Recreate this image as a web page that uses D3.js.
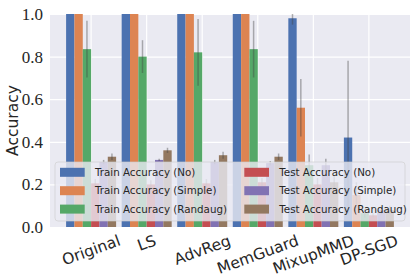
<!DOCTYPE html>
<html>
<head>
<meta charset="utf-8">
<script src="https://cdn.jsdelivr.net/npm/d3@7"></script>
<style>
  body { margin: 0; background: #fff; }
  svg { display: block; }
</style>
</head>
<body>
<svg id="chart" width="415" height="277"></svg>
<script>
const categories = ['Original', 'LS', 'AdvReg', 'MemGuard', 'MixupMMD', 'DP-SGD'];
const seriesNames = ['Train Accuracy (No)', 'Train Accuracy (Simple)', 'Train Accuracy (Randaug)',
                     'Test Accuracy (No)', 'Test Accuracy (Simple)', 'Test Accuracy (Randaug)'];
const colors = ['#4C72B0', '#DD8452', '#55A868', '#C44E52', '#8172B3', '#937860'];

const trainNo      = [1.0,   1.0,   1.0,   1.0,   0.98,  0.42];
const trainSimple  = [1.0,   1.0,   1.0,   1.0,   0.56,  0.15];
const trainRandaug = [0.835, 0.80,  0.82,  0.835, 0.29,  0.065];
const testNo       = [0.205, 0.20,  0.205, 0.21,  0.20,  0.055];
const testSimple   = [0.305, 0.315, 0.305, 0.30,  0.29,  0.08];
const testRandaug  = [0.33,  0.36,  0.337, 0.33,  0.21,  0.08];

const trainNoErr      = [0,     0,     0,     0,     0.03,  0.36];
const trainSimpleErr  = [0,     0,     0,     0,     0.135, 0.06];
const trainRandaugErr = [0.133, 0.077, 0.157, 0.133, 0.05,  0.02];
const testNoErr       = [0.02,  0.02,  0.02,  0.02,  0.03,  0.01];
const testSimpleErr   = [0.01,  0.005, 0.01,  0.01,  0.03,  0.02];
const testRandaugErr  = [0.015, 0.012, 0.016, 0.015, 0.03,  0.02];

const yTicks = [0, 0.2, 0.4, 0.6, 0.8, 1.0];

const values = [trainNo, trainSimple, trainRandaug, testNo, testSimple, testRandaug];
const errors = [trainNoErr, trainSimpleErr, trainRandaugErr, testNoErr, testSimpleErr, testRandaugErr];

const data = [];
categories.forEach((c, i) => {
  seriesNames.forEach((s, j) => {
    data.push({cat: c, series: s, value: values[j][i], err: errors[j][i], color: colors[j]});
  });
});

const svg = d3.select('#chart');
const margin = ({top: 14, right: 5, bottom: 50, left: 50});
const width = +svg.attr('width');
const innerWidth = width - margin.left - margin.right;
const innerHeight = 227 - margin.top;

const x = d3.scaleBand()
  .domain(categories)
  .range([0, innerWidth])
  .paddingInner(0)
  .paddingOuter(0.24);

const groupW = x.step() * 0.9;
const xSub = d3.scaleBand()
  .domain(seriesNames)
  .range([0, groupW]);

const y = d3.scaleLinear()
  .domain([0, 1])
  .range([innerHeight, 0]);

const g = svg.append('g')
  .attr('transform', `translate(${margin.left},${margin.top})`);

g.append('rect')
  .attr('width', innerWidth)
  .attr('height', innerHeight)
  .attr('fill', '#EAEAF2');

svg.append('defs').append('clipPath').attr('id', 'clip')
  .append('rect').attr('width', innerWidth).attr('height', innerHeight);

// grid (white lines only, no tick text)
const yGrid = g.append('g')
  .call(d3.axisLeft(y).tickValues(yTicks).tickSize(-innerWidth));
yGrid.select('.domain').remove();
yGrid.selectAll('.tick text').remove();
yGrid.selectAll('.tick line').attr('stroke', '#fff').attr('stroke-width', 1.2);

const xGrid = g.append('g')
  .attr('transform', `translate(0,${innerHeight})`)
  .call(d3.axisBottom(x).tickSize(-innerHeight));
xGrid.select('.domain').remove();
xGrid.selectAll('.tick text').remove();
xGrid.selectAll('.tick line').attr('stroke', '#fff').attr('stroke-width', 1.2);

const plot = g.append('g').attr('clip-path', 'url(#clip)');
const barX = d => x(d.cat) + (x.step() - groupW) / 2 + xSub(d.series);

plot.selectAll('rect.bar').data(data)
  .enter().append('rect')
    .attr('class', 'bar')
    .attr('x', barX)
    .attr('y', d => y(d.value))
    .attr('width', xSub.bandwidth())
    .attr('height', d => innerHeight - y(d.value))
    .attr('fill', d => d.color);

plot.selectAll('line.err').data(data.filter(d => d.err > 0))
  .enter().append('line')
    .attr('class', 'err')
    .attr('x1', d => barX(d) + xSub.bandwidth() / 2)
    .attr('x2', d => barX(d) + xSub.bandwidth() / 2)
    .attr('y1', d => y(d.value - d.err))
    .attr('y2', d => y(d.value + d.err))
    .attr('stroke', '#424242')
    .attr('stroke-opacity', 0.4)
    .attr('stroke-width', 1.5);

// y axis
const yAxisG = g.append('g')
  .call(d3.axisLeft(y).tickValues(yTicks).tickSize(0).tickPadding(7).tickFormat(d3.format('.1f')));
yAxisG.select('.domain').remove();
yAxisG.selectAll('text')
  .attr('font-family', '"Liberation Serif", serif')
  .attr('font-size', 17)
  .attr('fill', '#262626');

svg.append('text')
  .attr('transform', `translate(13,${margin.top + innerHeight / 2}) rotate(-90)`)
  .attr('text-anchor', 'middle')
  .attr('dy', '0.35em')
  .attr('font-family', '"DejaVu Sans", sans-serif')
  .attr('font-size', 15.5)
  .attr('fill', '#262626')
  .text('Accuracy');

// x tick labels, rotated, bbox centered under tick
const ang = 20 * Math.PI / 180;
const fs = 15.5;
const xLabels = g.append('g').selectAll('text').data(categories)
  .enter().append('text')
    .attr('text-anchor', 'middle')
    .attr('dy', '0.35em')
    .attr('font-family', '"DejaVu Sans", sans-serif')
    .attr('font-size', fs)
    .attr('fill', '#262626')
    .text(d => d);
xLabels.each(function(d) {
  const w = this.getComputedTextLength();
  const bh = w * Math.sin(ang) + fs * 0.85 * Math.cos(ang);
  const cx = x(d) + x.bandwidth() / 2;
  const cy = innerHeight + 6.5 + bh / 2;
  d3.select(this).attr('transform', `translate(${cx},${cy}) rotate(-20)`);
});

// legend
const leg = g.append('g').attr('transform', `translate(${55 - margin.left},${162 - margin.top})`);
leg.append('rect')
  .attr('width', 350)
  .attr('height', 59)
  .attr('rx', 3)
  .attr('fill', '#EAEAF2')
  .attr('fill-opacity', 0.8)
  .attr('stroke', '#cccccc')
  .attr('stroke-opacity', 0.8)
  .attr('stroke-width', 0.8);

const legItems = leg.selectAll('g.item').data(seriesNames)
  .enter().append('g')
    .attr('class', 'item')
    .attr('transform', (d, i) => `translate(${i < 3 ? 5 : 189.3},${10.3 + (i % 3) * 18.4})`);
legItems.append('rect')
  .attr('y', -4.5)
  .attr('width', 24.7)
  .attr('height', 9)
  .attr('fill', (d, i) => colors[i]);
legItems.append('text')
  .attr('x', 35)
  .attr('dy', '0.35em')
  .attr('font-family', '"DejaVu Sans", sans-serif')
  .attr('font-size', 10.3)
  .attr('fill', '#262626')
  .text(d => d);
</script>
</body>
</html>
